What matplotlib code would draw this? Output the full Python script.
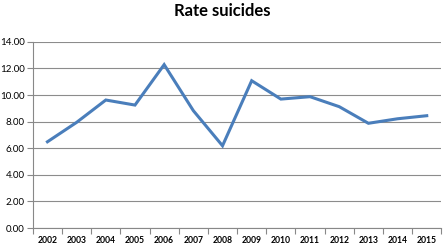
import numpy as np
import matplotlib
matplotlib.use('Agg')
import matplotlib.pyplot as plt

plt.rcParams['font.family'] = ['Lato', 'DejaVu Sans']

# data
years = ['2002', '2003', '2004', '2005', '2006', '2007', '2008',
         '2009', '2010', '2011', '2012', '2013', '2014', '2015']
rate = [6.49, 7.95, 9.63, 9.25, 12.29, 8.83, 6.19,
        11.08, 9.70, 9.88, 9.13, 7.88, 8.22, 8.45]
yticks = [0, 2, 4, 6, 8, 10, 12, 14]

fig = plt.figure(figsize=(4.44, 2.45), dpi=100)
ax = fig.add_axes([0.074, 0.069, 0.920, 0.760])

x = np.arange(len(years))
ax.plot(x, rate, color='#4a7ebb', linewidth=2.2, solid_joinstyle='miter')

ax.set_xlim(-0.5, len(years) - 0.5)
ax.set_ylim(0, 14)
ax.set_yticks(yticks)
ax.set_yticklabels(['%.2f' % v for v in yticks], fontsize=7)
ax.set_xticks(x)
ax.set_xticklabels(years, fontsize=6.2, fontweight='bold')
ax.set_xticks(np.arange(-0.5, len(years) + 0.5, 1), minor=True)
ax.tick_params(axis='x', which='major', length=0, pad=5.5)
ax.tick_params(axis='x', which='minor', length=4, color='#888888', width=0.8)
ax.tick_params(axis='y', length=4, color='#888888', width=0.8, pad=2)

ax.grid(axis='y', color='#8c8c8c', linewidth=0.8)
ax.set_axisbelow(True)
for s in ['top', 'right']:
    ax.spines[s].set_visible(False)
ax.spines['left'].set_color('#888888')
ax.spines['bottom'].set_color('#888888')
ax.spines['left'].set_linewidth(0.8)
ax.spines['bottom'].set_linewidth(0.8)

fig.text(0.5, 0.955, 'Rate suicides', ha='center', va='center',
         fontsize=12, fontweight='bold')

fig.savefig('out.png', dpi=100)
